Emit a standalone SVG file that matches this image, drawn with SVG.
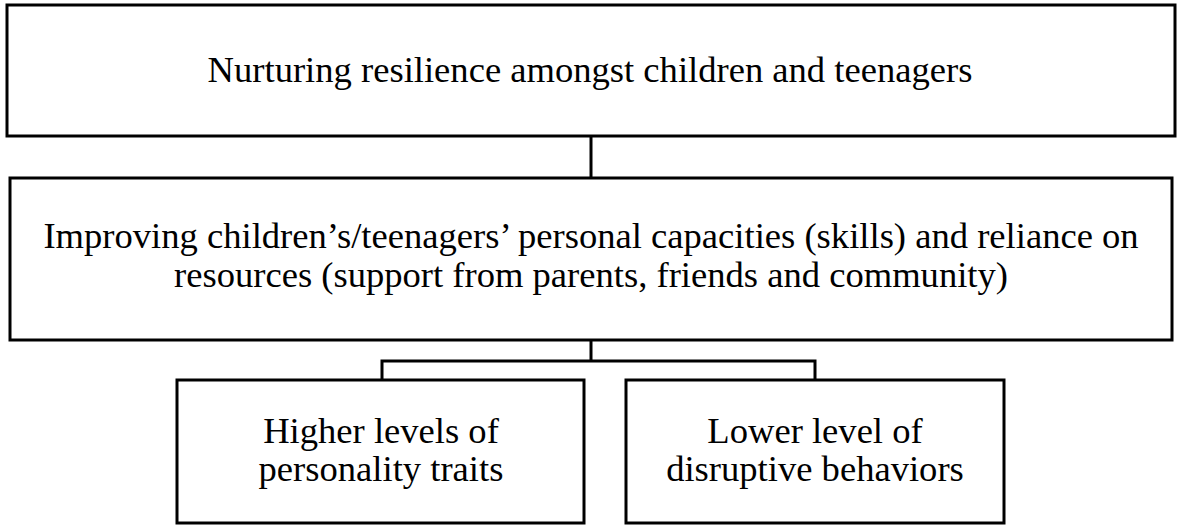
<svg xmlns="http://www.w3.org/2000/svg" width="1181" height="530" viewBox="0 0 1181 530">
<style>
.box{fill:#fff;stroke:#000;stroke-width:3}
.conn{fill:none;stroke:#000;stroke-width:3}
text{font-family:"Liberation Serif","Times New Roman",serif;font-size:36.6px;fill:#000;text-anchor:middle}
</style>
<rect width="1181" height="530" fill="#fff"/>
<g id="connectors">
<line class="conn" x1="591" y1="136" x2="591" y2="178"/>
<polyline class="conn" points="591,340 591,361"/>
<polyline class="conn" points="382,380 382,361 815,361 815,380"/>
</g>
<g id="n1">
<rect class="box" x="7" y="5" width="1168" height="131"/>
<text x="590" y="82">Nurturing resilience amongst children and teenagers</text>
</g>
<g id="n2">
<rect class="box" x="10" y="178" width="1162" height="162"/>
<text x="591" y="248">Improving children’s/teenagers’ personal capacities (skills) and reliance on</text>
<text x="591" y="287">resources (support from parents, friends and community)</text>
</g>
<g id="n3">
<rect class="box" x="177" y="380" width="407" height="143"/>
<text x="381" y="443">Higher levels of</text>
<text x="381" y="481">personality traits</text>
</g>
<g id="n4">
<rect class="box" x="626" y="380" width="378" height="143"/>
<text x="815" y="443">Lower level of</text>
<text x="815" y="481">disruptive behaviors</text>
</g>
</svg>
